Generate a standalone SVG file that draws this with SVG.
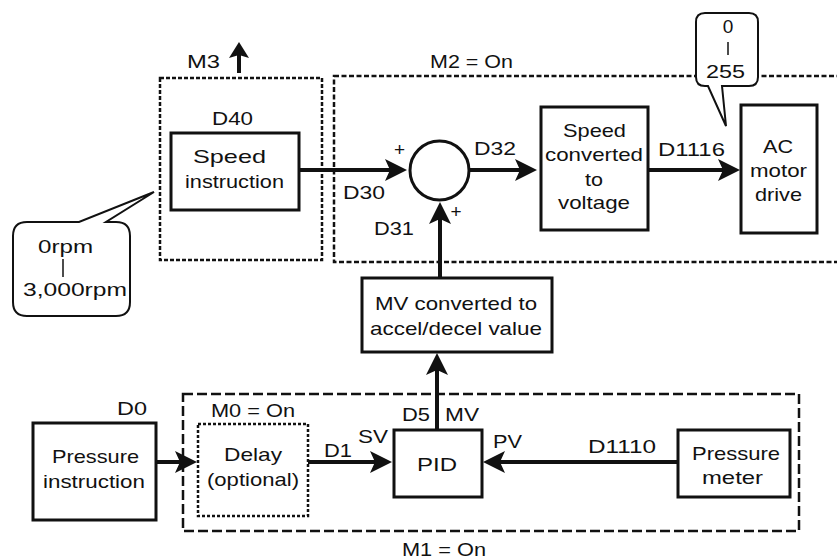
<svg xmlns="http://www.w3.org/2000/svg" width="837" height="560" viewBox="0 0 837 560">
<style>
text{font-family:"Liberation Sans",Arial,sans-serif;font-size:19px;fill:#111}
.box{fill:#fff;stroke:#111;stroke-width:3}
.zone{fill:none;stroke:#111;stroke-width:2.5}
.z3{stroke-dasharray:4 2}
.z2{stroke-dasharray:5 2.5}
.z1{stroke-dasharray:10 4}
.z0{stroke-dasharray:3 2}
.wire{fill:none;stroke:#111;stroke-width:4}
.call{fill:#fff;stroke:#111;stroke-width:2}
.bar{stroke:#111;stroke-width:1.5}
</style>
<defs>
<marker id="arr" viewBox="0 0 22 22" markerWidth="22" markerHeight="22" refX="16" refY="11" orient="auto" markerUnits="userSpaceOnUse">
<path d="M0,0 L22,11 L0,22 L5,11 Z" fill="#111"/>
</marker>
<marker id="arrS" viewBox="0 0 16 20" markerWidth="16" markerHeight="20" refX="11" refY="10" orient="auto" markerUnits="userSpaceOnUse">
<path d="M0,0 L16,10 L0,20 L3,10 Z" fill="#111"/>
</marker>
</defs>

<g id="zones">
<rect class="zone z3" x="160" y="78" width="162" height="182"/>
<rect class="zone z2" x="334" y="76" width="512" height="186"/>
<rect class="zone z1" x="183" y="394" width="616" height="137"/>
</g>

<g id="labels">
<text x="187" y="68" textLength="33" lengthAdjust="spacingAndGlyphs">M3</text>
<text x="430" y="68" textLength="83" lengthAdjust="spacingAndGlyphs">M2 = On</text>
<text x="402" y="556" textLength="84" lengthAdjust="spacingAndGlyphs">M1 = On</text>
<text x="212" y="125" textLength="41" lengthAdjust="spacingAndGlyphs">D40</text>
<text x="399.5" y="156" text-anchor="middle">+</text>
<text x="456" y="218" text-anchor="middle">+</text>
<text x="343" y="199" textLength="42" lengthAdjust="spacingAndGlyphs">D30</text>
<text x="374" y="235" textLength="40" lengthAdjust="spacingAndGlyphs">D31</text>
<text x="474" y="155" textLength="42" lengthAdjust="spacingAndGlyphs">D32</text>
<text x="658" y="156" textLength="67" lengthAdjust="spacingAndGlyphs">D1116</text>
<text x="117" y="415" textLength="30" lengthAdjust="spacingAndGlyphs">D0</text>
<text x="324" y="457" textLength="28" lengthAdjust="spacingAndGlyphs">D1</text>
<text x="358" y="443" textLength="30" lengthAdjust="spacingAndGlyphs">SV</text>
<text x="402" y="421" textLength="28" lengthAdjust="spacingAndGlyphs">D5</text>
<text x="445" y="421" textLength="34" lengthAdjust="spacingAndGlyphs">MV</text>
<text x="493" y="448" textLength="29" lengthAdjust="spacingAndGlyphs">PV</text>
<text x="588" y="453" textLength="68" lengthAdjust="spacingAndGlyphs">D1110</text>
</g>

<g id="connectors">
<line class="wire" x1="299" y1="170" x2="401" y2="170" marker-end="url(#arr)"/>
<line class="wire" x1="469" y1="170" x2="531" y2="170" marker-end="url(#arr)"/>
<line class="wire" x1="648" y1="170" x2="734" y2="170" marker-end="url(#arr)"/>
<line class="wire" x1="440" y1="278" x2="440" y2="208" marker-end="url(#arr)"/>
<line class="wire" x1="437" y1="430" x2="437" y2="359" marker-end="url(#arr)"/>
<line class="wire" x1="156" y1="462" x2="191" y2="462" marker-end="url(#arr)"/>
<line class="wire" x1="308" y1="462" x2="386" y2="462" marker-end="url(#arr)"/>
<line class="wire" x1="678" y1="462" x2="489" y2="462" marker-end="url(#arr)"/>
<line class="wire" x1="239" y1="73" x2="239" y2="47" stroke-width="3" marker-end="url(#arrS)"/>
</g>

<g id="speed-instruction">
<rect class="box" x="171" y="133" width="128" height="77"/>
<text x="193" y="163" textLength="73" lengthAdjust="spacingAndGlyphs">Speed</text>
<text x="185" y="188" textLength="99" lengthAdjust="spacingAndGlyphs">instruction</text>
</g>

<g id="sum">
<circle cx="439.5" cy="170.5" r="29.5" fill="#fff" stroke="#111" stroke-width="3"/>
</g>

<g id="speed-to-voltage">
<rect class="box" x="541" y="107" width="107" height="123"/>
<text x="563" y="137" textLength="63" lengthAdjust="spacingAndGlyphs">Speed</text>
<text x="545" y="161" textLength="98" lengthAdjust="spacingAndGlyphs">converted</text>
<text x="585" y="186" textLength="18" lengthAdjust="spacingAndGlyphs">to</text>
<text x="558" y="209" textLength="72" lengthAdjust="spacingAndGlyphs">voltage</text>
</g>

<g id="ac-motor-drive">
<rect class="box" x="741" y="105" width="76" height="128"/>
<text x="763" y="153" textLength="30" lengthAdjust="spacingAndGlyphs">AC</text>
<text x="750" y="177" textLength="57" lengthAdjust="spacingAndGlyphs">motor</text>
<text x="755" y="201" textLength="47" lengthAdjust="spacingAndGlyphs">drive</text>
</g>

<g id="mv-converter">
<rect class="box" x="362" y="278" width="190" height="74"/>
<text x="375" y="310" textLength="162" lengthAdjust="spacingAndGlyphs">MV converted to</text>
<text x="370" y="335" textLength="172" lengthAdjust="spacingAndGlyphs">accel/decel value</text>
</g>

<g id="pressure-instruction">
<rect class="box" x="33" y="423" width="123" height="97"/>
<text x="52" y="463" textLength="87" lengthAdjust="spacingAndGlyphs">Pressure</text>
<text x="43" y="488" textLength="102" lengthAdjust="spacingAndGlyphs">instruction</text>
</g>

<g id="delay">
<rect class="zone z0" x="198" y="424" width="110" height="92"/>
<text x="211" y="417" textLength="84" lengthAdjust="spacingAndGlyphs">M0 = On</text>
<text x="224" y="461" textLength="58" lengthAdjust="spacingAndGlyphs">Delay</text>
<text x="207" y="486" textLength="92" lengthAdjust="spacingAndGlyphs">(optional)</text>
</g>

<g id="pid">
<rect class="box" x="394" y="430" width="88" height="67"/>
<text x="417" y="471" textLength="40" lengthAdjust="spacingAndGlyphs">PID</text>
</g>

<g id="pressure-meter">
<rect class="box" x="678" y="430" width="112" height="67"/>
<text x="692" y="460" textLength="88" lengthAdjust="spacingAndGlyphs">Pressure</text>
<text x="702" y="484" textLength="61" lengthAdjust="spacingAndGlyphs">meter</text>
</g>

<g id="callout-rpm">
<path class="call" d="M27,222 L79,222 L154,192 L106,222 L116,222 Q130,222 130,236 L130,302 Q130,316 116,316 L27,316 Q13,316 13,302 L13,236 Q13,222 27,222 Z"/>
<text x="38" y="253" textLength="55" lengthAdjust="spacingAndGlyphs">0rpm</text>
<line class="bar" x1="63" y1="259" x2="63" y2="277"/>
<text x="23" y="296" textLength="104" lengthAdjust="spacingAndGlyphs">3,000rpm</text>
</g>

<g id="callout-255">
<path class="call" d="M705,13 L749,13 Q758,13 758,22 L758,77 Q758,86 749,86 L722,86 L726,126 L708,86 L705,86 Q696,86 696,77 L696,22 Q696,13 705,13 Z"/>
<text x="728" y="33" text-anchor="middle">0</text>
<line class="bar" x1="728" y1="42" x2="728" y2="55"/>
<text x="706" y="78" textLength="39" lengthAdjust="spacingAndGlyphs">255</text>
</g>
</svg>
